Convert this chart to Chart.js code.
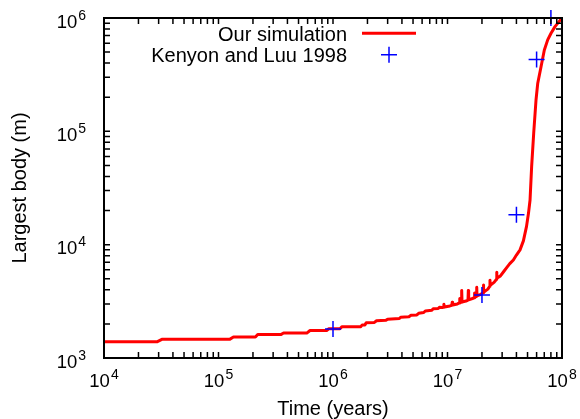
<!DOCTYPE html>
<html><head><meta charset="utf-8">
<script src="https://cdn.jsdelivr.net/npm/chart.js@4/dist/chart.umd.min.js"></script>
<style>html,body{margin:0;padding:0;background:#fff}#wrap{width:580px;height:419px}</style>
</head><body><div id="wrap"><canvas id="c" width="580" height="419"></canvas></div>
<script>
// ---- data ----
const simTime = [1e4, 2.9e4, 3.2e4, 1.25e5, 1.35e5, 2.1e5, 2.2e5, 3.5e5, 3.7e5, 5.9e5, 6.3e5, 8.8e5, 9.2e5,
  1.15e6, 1.2e6, 1.75e6, 1.8e6, 1.9e6, 1.95e6, 2.3e6, 2.4e6, 2.9e6, 3.0e6, 3.8e6, 3.9e6, 4.6e6, 4.8e6,
  5.4e6, 5.6e6, 6.2e6, 6.4e6, 7.3e6, 7.5e6, 8.3e6, 8.5e6, 9.0e6, 9.2e6, 9.3e6, 9.4e6, 1.05e7, 1.09e7, 1.1e7, 1.11e7,
  1.22e7, 1.27e7, 1.28e7, 1.29e7, 1.32e7, 1.33e7, 1.34e7, 1.45e7, 1.51e7, 1.52e7, 1.53e7, 1.65e7, 1.71e7, 1.72e7, 1.73e7,
  1.79e7, 1.8e7, 1.81e7, 1.95e7, 2.05e7, 2.06e7, 2.07e7, 2.25e7, 2.34e7, 2.35e7, 2.36e7, 2.55e7, 2.68e7, 2.69e7, 2.7e7,
  2.9e7, 3.1e7, 3.3e7, 3.5e7,
  3.76e7, 4.0e7, 4.3e7, 4.6e7, 4.9e7, 5.1e7, 5.26e7, 5.43e7, 5.66e7, 5.93e7, 6.14e7, 6.56e7, 7.01e7,
  7.5e7, 8.02e7, 8.69e7, 9.42e7, 1e8];
const simSize = [1390, 1390, 1460, 1460, 1530, 1530, 1610, 1610, 1660, 1660, 1750, 1750, 1810,
  1810, 1890, 1890, 1960, 1960, 2050, 2060, 2130, 2150, 2200, 2230, 2290, 2310, 2380,
  2400, 2480, 2520, 2600, 2640, 2720, 2730, 2800, 2790, 2800, 2980, 2820, 2880, 2920, 3100, 2940,
  3000, 3060, 3350, 3080, 3110, 3950, 3120, 3180, 3240, 3950, 3260, 3350, 3400, 3750, 3430,
  3500, 4200, 3530, 3650, 3760, 4400, 3800, 4050, 4300, 4850, 4380, 4650, 4950, 5700, 5050,
  5300, 5800, 6300, 6800,
  7330, 8100, 9000, 10800, 14500, 19000, 24800, 48800, 96200, 189000, 266000, 372000, 522000,
  641000, 733000, 839000, 929000, 1000000];
const klTime = [1e6, 2e7, 4e7, 6e7, 8e7];
const klSize = [1800, 3600, 18400, 430000, 1000000];
const seriesNames = ['Our simulation', 'Kenyon and Luu 1998'];
const xTickValues = [1e4, 1e5, 1e6, 1e7, 1e8];
const xTickExps = ['4', '5', '6', '7', '8'];
const yTickValues = [1e3, 1e4, 1e5, 1e6];
const yTickExps = ['3', '4', '5', '6'];
const xTitle = 'Time (years)';
const yTitle = 'Largest body (m)';

const FONT = '"Liberation Sans", Arial, Helvetica, sans-serif';
const RED = '#ff0000', BLUE = '#0000ff';

function minorTicks(lo, hi) {
  const out = [];
  for (let d = lo; d < hi; d *= 10) for (let k = 1; k < 10; k++) out.push(d * k);
  out.push(hi);
  return out;
}

const decor = {
  id: 'decor',
  afterDatasetsDraw(chart) {
    const {ctx, chartArea: a, scales: {x, y}} = chart;
    ctx.save();
    ctx.strokeStyle = '#000'; ctx.lineWidth = 1.5;
    const L = 6;
    ctx.beginPath();
    minorTicks(1e4, 1e8).forEach(v => {
      const px = x.getPixelForValue(v);
      ctx.moveTo(px, a.bottom); ctx.lineTo(px, a.bottom - L);
      ctx.moveTo(px, a.top); ctx.lineTo(px, a.top + L);
    });
    minorTicks(1e3, 1e6).forEach(v => {
      const py = y.getPixelForValue(v);
      ctx.moveTo(a.left, py); ctx.lineTo(a.left + L, py);
      ctx.moveTo(a.right, py); ctx.lineTo(a.right - L, py);
    });
    ctx.stroke();
    ctx.lineWidth = 2;
    ctx.strokeRect(a.left, a.top, a.right - a.left, a.bottom - a.top);

    ctx.fillStyle = '#000';
    ctx.textBaseline = 'alphabetic';
    const bigF = '18.5px ' + FONT, smF = '14px ' + FONT;
    function lab(exp) {
      ctx.font = bigF; const w1 = ctx.measureText('10').width;
      ctx.font = smF; const w2 = ctx.measureText(exp).width;
      return {w1, w2, w: w1 + w2 + 1};
    }
    function drawLab(exp, left, base) {
      const m = lab(exp);
      ctx.textAlign = 'left';
      ctx.font = bigF; ctx.fillText('10', left, base);
      ctx.font = smF; ctx.fillText(exp, left + m.w1 + 1, base - 8);
    }
    xTickValues.forEach((v, i) => {
      const px = x.getPixelForValue(v);
      const m = lab(xTickExps[i]);
      drawLab(xTickExps[i], px - m.w / 2, 387);
    });
    yTickValues.forEach((v, i) => {
      const py = y.getPixelForValue(v);
      const m = lab(yTickExps[i]);
      drawLab(yTickExps[i], 86 - m.w, py + 9.5);
    });

    ctx.font = '20px ' + FONT;
    ctx.textAlign = 'right';
    ctx.fillText(seriesNames[0], 347, 40.5);
    ctx.fillText(seriesNames[1], 347, 61.5);
    ctx.strokeStyle = RED; ctx.lineWidth = 3;
    ctx.beginPath(); ctx.moveTo(362, 33.3); ctx.lineTo(416, 33.3); ctx.stroke();
    ctx.strokeStyle = BLUE; ctx.lineWidth = 1.5;
    ctx.beginPath();
    ctx.moveTo(381, 54.7); ctx.lineTo(397, 54.7);
    ctx.moveTo(389, 46.7); ctx.lineTo(389, 62.7);
    ctx.stroke();
    ctx.restore();
  }
};

new Chart(document.getElementById('c'), {
  type: 'scatter',
  data: {
    datasets: [
      {
        label: seriesNames[1],
        data: klTime.map((t, i) => ({x: t, y: klSize[i]})),
        showLine: false,
        pointStyle: 'cross',
        pointRadius: 8,
        pointHoverRadius: 8,
        pointBorderWidth: 1.5,
        borderColor: BLUE,
        backgroundColor: BLUE,
        clip: false,
        order: 0
      },
      {
        label: seriesNames[0],
        data: simTime.map((t, i) => ({x: t, y: simSize[i]})),
        showLine: true,
        borderColor: RED,
        backgroundColor: RED,
        borderWidth: 3,
        pointRadius: 0,
        tension: 0,
        borderJoinStyle: 'round',
        order: 1
      }
    ]
  },
  options: {
    responsive: false,
    animation: false,
    devicePixelRatio: 1,
    layout: {padding: {left: 0, top: 18, right: 18, bottom: 0}},
    plugins: {legend: {display: false}, tooltip: {enabled: false}},
    scales: {
      x: {
        type: 'logarithmic', min: 1e4, max: 1e8, position: 'bottom',
        ticks: {display: false}, grid: {display: false}, border: {display: false},
        title: {display: true, text: xTitle, color: '#000',
          font: {family: FONT, size: 20, lineHeight: 1}, padding: {top: 0, bottom: 0}},
        afterFit: s => { s.height = 61; }
      },
      y: {
        type: 'logarithmic', min: 1e3, max: 1e6, position: 'left',
        ticks: {display: false}, grid: {display: false}, border: {display: false},
        title: {display: true, text: yTitle, color: '#000',
          font: {family: FONT, size: 20, lineHeight: 1}, padding: {top: 10, bottom: 0}},
        afterFit: s => { s.width = 104; }
      }
    }
  },
  plugins: [decor]
});
</script>
</body></html>
